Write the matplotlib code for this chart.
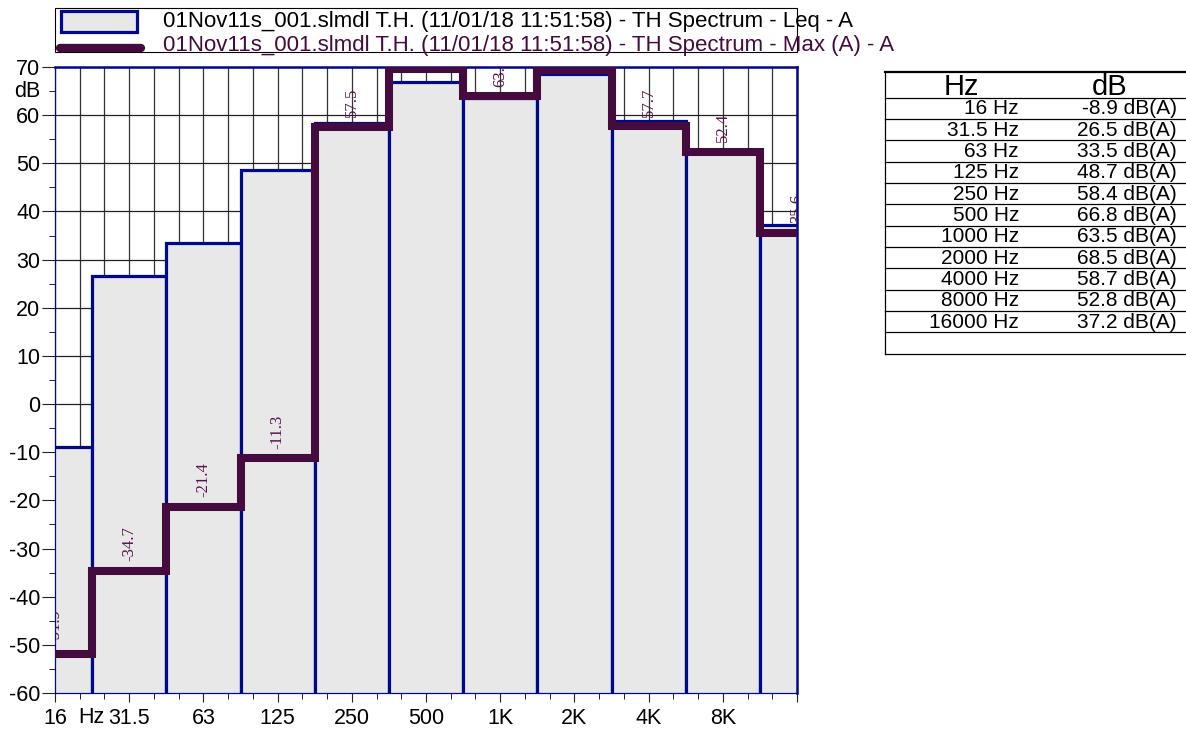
import numpy as np
import matplotlib
matplotlib.use("Agg")
import matplotlib.pyplot as plt
from matplotlib.patches import Rectangle
from matplotlib.lines import Line2D

plt.rcParams['font.family'] = ['Liberation Sans', 'DejaVu Sans']
plt.rcParams['axes.unicode_minus'] = False

# octave bands
bands = ["16", "31.5", "63", "125", "250", "500", "1K", "2K", "4K", "8K", "16K"]
band_hz = ["16 Hz", "31.5 Hz", "63 Hz", "125 Hz", "250 Hz", "500 Hz", "1000 Hz",
           "2000 Hz", "4000 Hz", "8000 Hz", "16000 Hz"]
leq_a = [-8.9, 26.5, 33.5, 48.7, 58.4, 66.8, 63.5, 68.5, 58.7, 52.8, 37.2]
max_a = [-51.9, -34.7, -21.4, -11.3, 57.5, 69.6, 63.9, 69.3, 57.7, 52.4, 35.6]

leg_leq = "01Nov11s_001.slmdl T.H. (11/01/18 11:51:58) - TH Spectrum - Leq - A"
leg_max = "01Nov11s_001.slmdl T.H. (11/01/18 11:51:58) - TH Spectrum - Max (A) - A"

NAVY = '#00098a'
PURPLE = '#450a3e'
FILL = '#e8e8e8'

W, H = 1186, 733
fig = plt.figure(figsize=(W / 100, H / 100), dpi=100)


def fx(px):
    return px / W


def fy(py):
    return 1 - py / H


ax = fig.add_axes([fx(55), fy(693), fx(797) - fx(55), fy(67) - fy(693)])
x = np.arange(len(bands))
ymin, ymax = -60, 70

# grid behind the bars
ax.set_axisbelow(True)
ax.bar(x, np.array(leq_a) + 70, bottom=-70, width=1.0, color=FILL,
       edgecolor=NAVY, linewidth=2.3, zorder=2)
ax.stairs(max_a, np.arange(len(bands) + 1) - 0.5, baseline=None,
          color=PURPLE, linewidth=5.8, zorder=3)

for xi, v in zip(x, max_a):
    if v + 1.5 >= ymax:
        continue  # label would sit entirely above the plot
    ax.annotate(f"{v:.1f}", (xi, v), xytext=(0, 7), textcoords='offset points',
                rotation=90, ha='center', va='bottom', fontsize=12,
                family='Liberation Serif', color='#55124b', zorder=4,
                annotation_clip=False, clip_on=True)

ax.set_xlim(0, 10)
ax.set_ylim(ymin, ymax)
ax.set_xticks(np.arange(0, 11))
ax.set_xticklabels(bands[:10] + [""])
ax.set_xticks(np.arange(0, 10.01, 1 / 3), minor=True)
ax.set_yticks(np.arange(-60, 71, 10))
ax.set_yticks(np.arange(-55, 70, 10), minor=True)
ax.tick_params(axis='both', labelsize=15.5, colors='#222222', labelcolor='black')
ax.tick_params(axis='x', which='major', length=6.5, pad=4)
ax.tick_params(axis='x', which='minor', length=4.3)
ax.tick_params(axis='y', which='major', length=9.5, pad=1)
ax.tick_params(axis='y', which='minor', length=4.3)
ax.grid(True, axis='y', which='major', color='#222222', linewidth=0.9)
ax.grid(True, axis='x', which='both', color='#333333', linewidth=0.9)
ax.text(0.485, -63.0, "Hz", ha='center', va='top', fontsize=15.5, clip_on=False)
ax.text(-0.2, 65, "dB", ha='right', va='center', fontsize=15.5, clip_on=False)

for s in ['top', 'right']:
    ax.spines[s].set_color(NAVY)
    ax.spines[s].set_linewidth(1.8)
for s in ['left', 'bottom']:
    ax.spines[s].set_color(NAVY)
    ax.spines[s].set_linewidth(0.9)

# legend box
fig.add_artist(Rectangle((fx(55), fy(52)), fx(797) - fx(55), fy(8) - fy(52),
                         fill=False, edgecolor='black', linewidth=0.8,
                         transform=fig.transFigure))
fig.add_artist(Rectangle((fx(61), fy(32)), fx(137) - fx(61), fy(11) - fy(32),
                         facecolor=FILL, edgecolor=NAVY, linewidth=2.3,
                         transform=fig.transFigure))
fig.add_artist(Line2D([fx(60), fx(141)], [fy(48), fy(48)], color=PURPLE,
                      linewidth=6, solid_capstyle='round',
                      transform=fig.transFigure))
fig.text(fx(163), fy(21), leg_leq, ha='left', va='center', fontsize=16,
         color='black')
fig.text(fx(163), fy(45), leg_max, ha='left', va='center', fontsize=16,
         color=PURPLE)

# value table
t_left, t_top, t_head, row_h = 885, 72, 97.5, 21.35
n_rows = len(band_hz) + 1
t_bottom = t_head + row_h * n_rows
fig.add_artist(Line2D([fx(t_left), fx(W)], [fy(t_top), fy(t_top)], color='black',
                      linewidth=1.6, transform=fig.transFigure))
fig.add_artist(Line2D([fx(t_left), fx(t_left)], [fy(t_top), fy(t_bottom)],
                      color='black', linewidth=0.9, transform=fig.transFigure))
for i in range(n_rows + 1):
    yy = t_head + row_h * i
    fig.add_artist(Line2D([fx(t_left), fx(W)], [fy(yy), fy(yy)], color='black',
                          linewidth=0.9, transform=fig.transFigure))
fig.text(fx(961), fy(87), "Hz", ha='center', va='center', fontsize=21)
fig.text(fx(1110), fy(87), "dB", ha='center', va='center', fontsize=21)
for i, (hz, v) in enumerate(zip(band_hz, leq_a)):
    yc = t_head + row_h * (i + 0.5) + 0.5
    fig.text(fx(1019), fy(yc), hz, ha='right', va='center', fontsize=15)
    fig.text(fx(1177), fy(yc), f"{v:.1f} dB(A)", ha='right', va='center',
             fontsize=15)

fig.savefig("out.png", dpi=100)
